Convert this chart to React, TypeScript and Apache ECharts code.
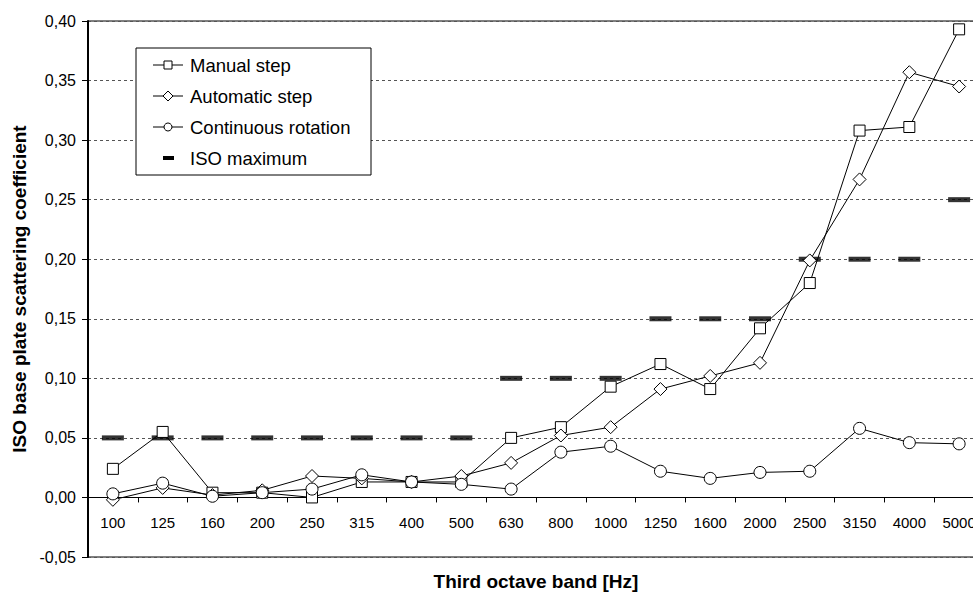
import React, { useEffect, useRef } from "react";
import * as echarts from "echarts";

const categories = ["100", "125", "160", "200", "250", "315", "400", "500", "630", "800", "1000", "1250", "1600", "2000", "2500", "3150", "4000", "5000"];
const manualStep = [0.024, 0.055, 0.004, 0.004, 0.0, 0.013, 0.013, 0.013, 0.05, 0.059, 0.093, 0.112, 0.091, 0.142, 0.18, 0.308, 0.311, 0.393];
const automaticStep = [-0.002, 0.008, 0.002, 0.006, 0.018, 0.016, 0.013, 0.018, 0.029, 0.052, 0.059, 0.091, 0.102, 0.113, 0.199, 0.267, 0.357, 0.345];
const continuousRotation = [0.003, 0.012, 0.001, 0.004, 0.007, 0.019, 0.013, 0.011, 0.007, 0.038, 0.043, 0.022, 0.016, 0.021, 0.022, 0.058, 0.046, 0.045];
const isoMaximum = [0.05, 0.05, 0.05, 0.05, 0.05, 0.05, 0.05, 0.05, 0.1, 0.1, 0.1, 0.15, 0.15, 0.15, 0.2, 0.2, 0.2, 0.25];
const legendNames = ["Manual step", "Automatic step", "Continuous rotation", "ISO maximum"];
const yMin = -0.05;
const yMax = 0.4;
const yStep = 0.05;

const FONT = "Liberation Sans, Arial, sans-serif";

export default function App() {
  const ref = useRef<HTMLDivElement>(null);
  useEffect(() => {
    document.body.style.margin = "0";
    if (!ref.current) return;
    const chart = echarts.init(ref.current, undefined, { renderer: "svg" });

    const gridTop = 21, gridHeight = 536, gridLeft = 88, gridWidth = 896;
    // shift category axis up to the zero line of the value axis
    const zeroOffset = -gridHeight * (0 - yMin) / (yMax - yMin);

    const markerStyle = { color: "#fff", borderColor: "#000", borderWidth: 1 };
    const lineStyle = { color: "#000", width: 1 };

    const lx = 136, ly = 48, lw = 235, lh = 127;
    const rowY = [65, 96, 127, 158];
    const graphics: any[] = [
      { type: "rect", shape: { x: lx, y: ly, width: lw, height: lh }, style: { fill: "#fff", stroke: "#000", lineWidth: 1 }, z: 10 },
    ];
    for (let i = 0; i < 3; i++) {
      graphics.push({ type: "line", shape: { x1: 153, y1: rowY[i], x2: 183, y2: rowY[i] }, style: { stroke: "#000", lineWidth: 1 }, z: 11 });
    }
    graphics.push({ type: "rect", shape: { x: 164, y: rowY[0] - 4, width: 8, height: 8 }, style: { fill: "#fff", stroke: "#000", lineWidth: 1 }, z: 12 });
    graphics.push({ type: "polygon", shape: { points: [[168, rowY[1] - 5], [173, rowY[1]], [168, rowY[1] + 5], [163, rowY[1]]] }, style: { fill: "#fff", stroke: "#000", lineWidth: 1 }, z: 12 });
    graphics.push({ type: "circle", shape: { cx: 168, cy: rowY[2], r: 4 }, style: { fill: "#fff", stroke: "#000", lineWidth: 1 }, z: 12 });
    graphics.push({ type: "rect", shape: { x: 163, y: rowY[3] - 2, width: 11, height: 4 }, style: { fill: "#000" }, z: 12 });
    legendNames.forEach((n, i) => {
      graphics.push({ type: "text", x: 190, y: rowY[i], style: { text: n, fill: "#000", font: `18.5px ${FONT}`, verticalAlign: "middle", align: "left" }, z: 12 });
    });
    graphics.push({ type: "text", x: 536, y: 581, style: { text: "Third octave band [Hz]", fill: "#000", font: `bold 19px ${FONT}`, verticalAlign: "middle", align: "center" }, z: 12 });

    chart.setOption({
      animation: false,
      backgroundColor: "#fff",
      grid: { left: gridLeft, top: gridTop, width: gridWidth, height: gridHeight, show: true, borderColor: "#000", borderWidth: 1, containLabel: false, outerBoundsMode: "none" },
      xAxis: {
        type: "category",
        data: categories,
        boundaryGap: true,
        position: "bottom",
        offset: zeroOffset,
        axisLine: { onZero: false, lineStyle: { color: "#000", width: 1 } },
        axisTick: { show: true, inside: false, length: 5, alignWithLabel: false, lineStyle: { color: "#000" } },
        axisLabel: { fontFamily: FONT, fontSize: 15, color: "#000", margin: 18, interval: 0 },
        splitLine: { show: false },
      },
      yAxis: {
        type: "value",
        min: yMin,
        max: yMax,
        interval: yStep,
        name: "ISO base plate scattering coefficient",
        nameLocation: "middle",
        nameGap: 56,
        nameRotate: 90,
        nameTextStyle: { fontFamily: FONT, fontSize: 19, fontWeight: "bold", color: "#000" },
        axisLine: { show: true, lineStyle: { color: "#000", width: 2 } },
        axisTick: { show: true, inside: false, length: 6, lineStyle: { color: "#000" } },
        axisLabel: {
          fontFamily: FONT, fontSize: 16, color: "#000", margin: 12,
          formatter: (v: number) => (Math.round(v * 100) / 100).toFixed(2).replace(".", ","),
        },
        splitLine: { show: true, lineStyle: { color: "#555", type: [3, 3], width: 1 } },
      },
      series: [
        {
          name: "ISO maximum", type: "scatter", data: isoMaximum, symbol: "rect", symbolSize: [22, 5],
          itemStyle: { color: "#000" }, z: 1,
        },
        {
          name: "Manual step", type: "line", data: manualStep, symbol: "rect", symbolSize: 11, showAllSymbol: true,
          itemStyle: markerStyle, lineStyle, z: 3,
        },
        {
          name: "Automatic step", type: "line", data: automaticStep, symbol: "diamond", symbolSize: 13, showAllSymbol: true,
          itemStyle: markerStyle, lineStyle, z: 3,
        },
        {
          name: "Continuous rotation", type: "line", data: continuousRotation, symbol: "circle", symbolSize: 12, showAllSymbol: true,
          itemStyle: markerStyle, lineStyle, z: 3,
        },
      ],
      graphic: graphics,
    });
    return () => chart.dispose();
  }, []);
  return <div ref={ref} style={{ width: 973, height: 596 }} />;
}
